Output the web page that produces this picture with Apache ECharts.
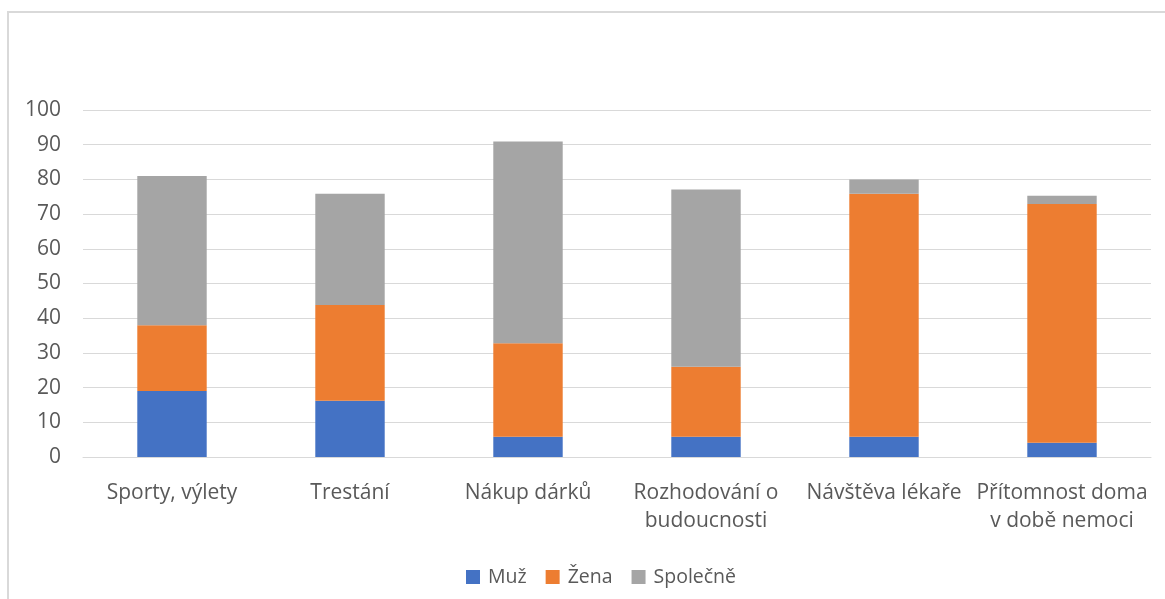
<!DOCTYPE html>
<html>
<head>
<meta charset="utf-8">
<script src="https://cdn.jsdelivr.net/npm/echarts@6/dist/echarts.min.js"></script>
<style>html,body{margin:0;padding:0;background:#fff;}#c{width:1165px;height:599px;}</style>
</head>
<body>
<div id="c"></div>
<script>
const categories = ['Sporty, výlety', 'Trestání', 'Nákup dárků', 'Rozhodování o\nbudoucnosti', 'Návštěva lékaře', 'Přítomnost doma\nv době nemoci'];
const muz = [19.0, 16.2, 5.8, 5.8, 5.8, 4.1];
const zena = [19.0, 27.6, 27.0, 20.2, 70.1, 68.8];
const spolecne = [43.0, 32.1, 58.1, 51.1, 4.1, 2.4];
const yTicks = [0, 10, 20, 30, 40, 50, 60, 70, 80, 90, 100];

const font = '"Open Sans", Lato, sans-serif';
const chart = echarts.init(document.getElementById('c'), null, {renderer: 'canvas'});
const mk = (name, data, color) => ({
  name, type: 'bar', stack: 'a', data, barWidth: '39%',
  itemStyle: {color}, emphasis: {disabled: true}
});
chart.setOption({
  animation: false,
  backgroundColor: '#fff',
  graphic: [{
    type: 'rect', shape: {x: 8, y: 12, width: 1300, height: 700},
    style: {fill: 'none', stroke: '#d9d9d9', lineWidth: 2}, silent: true, z: 0
  }],
  grid: {left: 83, right: 14, top: 110, bottom: 142, containLabel: false},
  legend: {
    left: 461, top: 562, itemWidth: 14, itemHeight: 14, itemGap: 19,
    icon: 'rect',
    textStyle: {fontFamily: font, fontSize: 19.5, color: '#595959', padding: [0, 0, 0, 3]},
    data: ['Muž', 'Žena', 'Společně']
  },
  xAxis: {
    type: 'category', data: categories,
    axisLine: {show: true, lineStyle: {color: '#d9d9d9', width: 1}},
    axisTick: {show: false},
    axisLabel: {fontFamily: font, fontSize: 21, color: '#595959', margin: 22, lineHeight: 28, interval: 0}
  },
  yAxis: {
    type: 'value', min: yTicks[0], max: yTicks[yTicks.length - 1], interval: 10,
    axisLine: {show: false}, axisTick: {show: false},
    splitLine: {lineStyle: {color: '#d9d9d9', width: 1}},
    axisLabel: {fontFamily: font, fontSize: 21, color: '#595959', margin: 22}
  },
  series: [
    mk('Muž', muz, '#4472c4'),
    mk('Žena', zena, '#ed7d31'),
    mk('Společně', spolecne, '#a5a5a5')
  ]
});
</script>
</body>
</html>
